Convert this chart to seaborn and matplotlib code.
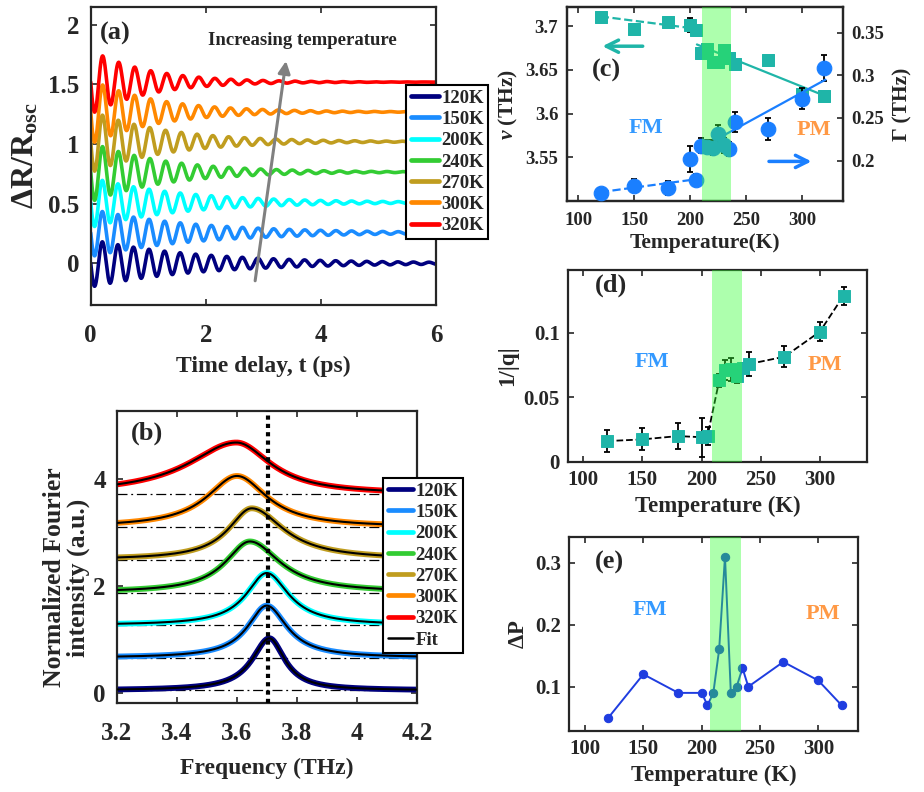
import numpy as np
import pandas as pd
import matplotlib
matplotlib.use("Agg")
import matplotlib.pyplot as plt
import seaborn as sns
from matplotlib.ticker import FuncFormatter, FixedLocator
from matplotlib.lines import Line2D

# ---------------- data ----------------
temp_labels = ["120K", "150K", "200K", "240K", "270K", "300K", "320K"]
temp_colors = ["#00007f", "#1a8cff", "#00ffff", "#33cc33", "#c09d1f", "#ff8800", "#ff0000"]

# (a) damped coherent-phonon traces: offset, amplitude, frequency (THz), decay (ps)
a_offset = [0.0, 0.255, 0.51, 0.765, 1.02, 1.27, 1.52]
a_amp = [0.20, 0.20, 0.21, 0.25, 0.26, 0.27, 0.27]
a_freq = [3.70, 3.695, 3.695, 3.64, 3.65, 3.60, 3.59]
a_tau = [1.9, 1.8, 1.6, 1.3, 1.3, 1.15, 1.0]

# (b) Fourier spectra: baseline, peak height, centre, left/right half widths
b_base = [0.045, 0.655, 1.265, 1.875, 2.49, 3.095, 3.71]
b_amp = [0.975, 0.975, 0.975, 0.955, 0.96, 0.96, 0.97]
b_center = [3.708, 3.699, 3.699, 3.643, 3.649, 3.600, 3.598]
b_hwl = [0.070, 0.078, 0.083, 0.100, 0.095, 0.122, 0.195]
b_hwr = [0.062, 0.083, 0.089, 0.123, 0.130, 0.122, 0.139]
b_dotted = 3.705

# (c) frequency and linewidth vs temperature
T = [120, 150, 180, 200, 205, 210, 215, 220, 225, 230, 235, 240, 270, 300, 320]
nu = [3.7106, 3.6962, 3.7042, 3.701, 3.696, 3.669, 3.6735, 3.659, 3.659, 3.6727,
      3.664, 3.6567, 3.6613, 3.622, 3.6195]
nu_err = [0.003, 0.004, 0.004, 0.008, 0.004, 0.004, 0.004, 0.005, 0.005, 0.004,
          0.004, 0.005, 0.004, 0.005, 0.005]
gam = [0.1623, 0.1706, 0.1675, 0.2016, 0.1773, 0.2173, 0.2165, 0.2153, 0.231, 0.2177,
       0.2138, 0.2452, 0.2373, 0.2727, 0.3088]
gam_err = [0.006, 0.008, 0.008, 0.015, 0.007, 0.009, 0.008, 0.009, 0.011, 0.009,
           0.008, 0.012, 0.013, 0.012, 0.015]
nu_fit_lo_T, nu_fit_lo = [120, 205], [3.711, 3.697]
nu_fit_hi_T, nu_fit_hi = [206, 321], [3.679, 3.620]
gam_fit_lo_T, gam_fit_lo = [120, 205], [0.163, 0.178]
gam_fit_hi_T, gam_fit_hi = [225, 321], [0.226, 0.295]

# (d) 1/|q|
Tq = [120, 150, 180, 200, 205, 215, 220, 225, 230, 235, 240, 270, 300, 320]
invq = [0.016, 0.0173, 0.0199, 0.019, 0.0199, 0.0633, 0.0711, 0.0716, 0.0667, 0.0724,
        0.0757, 0.0814, 0.1008, 0.1287]
invq_err = [0.0085, 0.0085, 0.010, 0.015, 0.007, 0.005, 0.008, 0.009, 0.006, 0.004,
            0.009, 0.008, 0.0075, 0.007]

# (e) Delta P
TP = [120, 150, 180, 200, 205, 210, 215, 220, 225, 230, 235, 240, 270, 300, 320]
dP = [0.05, 0.12, 0.09, 0.09, 0.07, 0.09, 0.16, 0.31, 0.09, 0.10, 0.13, 0.10, 0.14, 0.11, 0.07]

band_c = (211, 236.7)
band_d = (209, 234)
band_e = (207.5, 233.5)

# ---------------- style ----------------
sns.set_style("ticks")
plt.rcParams["font.family"] = ["Liberation Serif", "DejaVu Serif"]
plt.rcParams["font.weight"] = "bold"
plt.rcParams["axes.labelweight"] = "bold"
plt.rcParams["mathtext.fontset"] = "custom"
plt.rcParams["mathtext.rm"] = "Liberation Serif:bold"
plt.rcParams["mathtext.bf"] = "Liberation Serif:bold"
plt.rcParams["mathtext.it"] = "Liberation Serif:bold:italic"

teal = "#1fb5a8"
blue = "#1a7fff"
fm_col = "#3399ff"
pm_col = "#ff9945"
band_col = "#33ff33"
fmt = FuncFormatter(lambda v, p: "%g" % round(v, 4))

fig = plt.figure(figsize=(9.24, 7.92), dpi=100)
axA = fig.add_axes([0.0982, 0.6149, 0.3737, 0.3763])
axB = fig.add_axes([0.1266, 0.1124, 0.3247, 0.3687])
axC = fig.add_axes([0.6133, 0.7462, 0.2994, 0.2446])
axD = fig.add_axes([0.6150, 0.4170, 0.3229, 0.2421])
axE = fig.add_axes([0.6161, 0.0774, 0.3128, 0.2442])


def style(ax, fs, xpad=6, ypad=6, right=True):
    for s in ax.spines.values():
        s.set_linewidth(1.6)
        s.set_color("#262626")
        s.set_visible(True)
    ax.tick_params(direction="in", top=True, right=right, length=4, width=1.2,
                   labelsize=fs)
    ax.tick_params(axis="x", pad=xpad)
    ax.tick_params(axis="y", pad=ypad)
    for lab in ax.get_xticklabels() + ax.get_yticklabels():
        lab.set_fontweight("bold")


# ---------------- (a) ----------------
t = np.linspace(0, 6, 1800)
rows = []
for lab, off, A, f, tau in zip(temp_labels, a_offset, a_amp, a_freq, a_tau):
    y = off - A * np.sin(2 * np.pi * f * t) * np.exp(-t / tau)
    rows.append(pd.DataFrame({"t": t, "y": y, "T": lab}))
dfa = pd.concat(rows)
sns.lineplot(data=dfa, x="t", y="y", hue="T", palette=temp_colors, lw=2.6,
             legend=False, ax=axA, estimator=None, sort=False)
axA.set_xlim(0, 6)
axA.set_ylim(-0.35, 2.15)
axA.xaxis.set_major_locator(FixedLocator([0, 2, 4, 6]))
axA.yaxis.set_major_locator(FixedLocator([0, 0.5, 1, 1.5, 2]))
axA.xaxis.set_major_formatter(fmt)
axA.yaxis.set_major_formatter(fmt)
style(axA, 18, xpad=14, ypad=8)
axA.set_xlabel("Time delay, t (ps)", fontsize=17, labelpad=6)
axA.set_ylabel(r"$\Delta$R/R$_{\rm osc}$", fontsize=23, labelpad=6)
axA.text(0.16, 1.93, "(a)", fontsize=19, fontweight="bold", va="center")
axA.annotate("", xy=(3.4, 1.72), xytext=(2.85, -0.17),
             arrowprops=dict(arrowstyle="-|>", color="#808080", lw=2.2,
                             mutation_scale=18))
axA.text(3.67, 1.87, "Increasing temperature", fontsize=13.5, fontweight="bold",
         ha="center", va="center")
hA = [Line2D([], [], color=c, lw=3.4) for c in temp_colors]
legA = axA.legend(hA, temp_labels, loc="upper left", bbox_to_anchor=(0.4394, 0.8927),
                  bbox_transform=fig.transFigure, fontsize=13.5, frameon=True,
                  fancybox=False, framealpha=1, edgecolor="black", borderpad=0.25,
                  handlelength=1.5, handletextpad=0.12, labelspacing=0.22,
                  borderaxespad=0)
legA.get_frame().set_linewidth(1.5)
for tx in legA.get_texts():
    tx.set_fontweight("bold")

# ---------------- (b) ----------------
fq = np.linspace(3.2, 4.2, 800)
rows = []
for lab, b0, A, c, hl, hr in zip(temp_labels, b_base, b_amp, b_center, b_hwl, b_hwr):
    hw = np.where(fq < c, hl, hr)
    y = b0 + A * hw ** 2 / ((fq - c) ** 2 + hw ** 2)
    rows.append(pd.DataFrame({"f": fq, "y": y, "T": lab}))
dfb = pd.concat(rows)
for b0 in b_base:
    axB.axhline(b0, color="black", lw=0.9, ls=(0, (8, 3, 1.5, 3)), zorder=1)
sns.lineplot(data=dfb, x="f", y="y", hue="T", palette=temp_colors, lw=4.2,
             legend=False, ax=axB, estimator=None, sort=False, zorder=2)
for lab in temp_labels:
    sub = dfb[dfb["T"] == lab]
    sns.lineplot(x=sub["f"].values, y=sub["y"].values, color="black", lw=1.5,
                 ax=axB, estimator=None, sort=False, zorder=3)
axB.axvline(b_dotted, color="black", lw=3, ls=(0, (1, 1)), zorder=4)
axB.set_xlim(3.2, 4.2)
axB.set_ylim(-0.19, 5.27)
axB.xaxis.set_major_locator(FixedLocator([3.2, 3.4, 3.6, 3.8, 4.0, 4.2]))
axB.yaxis.set_major_locator(FixedLocator([0, 2, 4]))
axB.xaxis.set_major_formatter(fmt)
axB.yaxis.set_major_formatter(fmt)
style(axB, 18, xpad=14, ypad=8)
axB.set_xlabel("Frequency (THz)", fontsize=17, labelpad=9)
axB.set_ylabel("Normalized Fourier\nintensity (a.u.)", fontsize=18.5,
               linespacing=1.05)
axB.yaxis.set_label_coords(-0.09, 0.43)
axB.text(3.245, 4.86, "(b)", fontsize=19, fontweight="bold", va="center")
hB = [Line2D([], [], color=c, lw=3.4) for c in temp_colors] + \
     [Line2D([], [], color="black", lw=1.8)]
legB = axB.legend(hB, temp_labels + ["Fit"], loc="upper left",
                  bbox_to_anchor=(0.4145, 0.3965), bbox_transform=fig.transFigure,
                  fontsize=13.5, frameon=True, fancybox=False, framealpha=1,
                  edgecolor="black", borderpad=0.25, handlelength=1.35,
                  handletextpad=0.12, labelspacing=0.22, borderaxespad=0)
legB.get_frame().set_linewidth(1.5)
for tx in legB.get_texts():
    tx.set_fontweight("bold")

# ---------------- (c) ----------------
axC2 = axC.twinx()
axC.errorbar(T, nu, yerr=nu_err, fmt="none", ecolor="black", elinewidth=1.3,
             capsize=2, capthick=1.3, zorder=2)
sns.scatterplot(x=T, y=nu, marker="s", s=80, color=teal, edgecolor=teal, ax=axC,
                zorder=3, legend=False)
sns.lineplot(x=nu_fit_lo_T, y=nu_fit_lo, color=teal, lw=1.6, ls="--", ax=axC)
sns.lineplot(x=nu_fit_hi_T, y=nu_fit_hi, color=teal, lw=1.6, ax=axC)
axC2.errorbar(T, gam, yerr=gam_err, fmt="none", ecolor="black", elinewidth=1.3,
              capsize=2, capthick=1.3, zorder=2)
sns.scatterplot(x=T, y=gam, marker="o", s=110, color=blue, edgecolor=blue, ax=axC2,
                zorder=3, legend=False)
sns.lineplot(x=gam_fit_lo_T, y=gam_fit_lo, color=blue, lw=1.6, ls="--", ax=axC2)
sns.lineplot(x=gam_fit_hi_T, y=gam_fit_hi, color=blue, lw=1.6, ax=axC2)
axC2.axvspan(*band_c, color=band_col, alpha=0.4, lw=0, zorder=10)
axC.set_xlim(89.5, 337)
axC.set_ylim(3.5, 3.7215)
axC2.set_ylim(0.1525, 0.38)
axC.xaxis.set_major_locator(FixedLocator([100, 150, 200, 250, 300]))
axC.yaxis.set_major_locator(FixedLocator([3.55, 3.6, 3.65, 3.7]))
axC2.yaxis.set_major_locator(FixedLocator([0.2, 0.25, 0.3, 0.35]))
for a in (axC, axC2):
    a.xaxis.set_major_formatter(fmt)
    a.yaxis.set_major_formatter(fmt)
style(axC, 13.5, xpad=8, ypad=6, right=False)
style(axC2, 13.5, xpad=8, ypad=6, right=True)
axC2.tick_params(left=False, labelleft=False)
axC.set_xlabel("Temperature(K)", fontsize=15.5, labelpad=3)
axC.set_ylabel(r"$\nu$ (THz)", fontsize=15.5, labelpad=4)
axC2.set_ylabel("Γ (THz)", fontsize=15.5, labelpad=6)
axC.text(112, 3.649, "(c)", fontsize=19, fontweight="bold", va="center")
axC.text(160, 3.584, "FM", fontsize=16, fontweight="bold", color=fm_col,
         ha="center", va="center")
axC.text(310.5, 3.5815, "PM", fontsize=16, fontweight="bold", color=pm_col,
         ha="center", va="center")
axC.annotate("", xy=(119, 3.677), xytext=(160, 3.677),
             arrowprops=dict(arrowstyle="->", color=teal, lw=2.5, mutation_scale=22))
axC2.annotate("", xy=(311, 0.199), xytext=(268, 0.199),
              arrowprops=dict(arrowstyle="->", color=blue, lw=2.5, mutation_scale=22))

# ---------------- (d) ----------------
sns.lineplot(x=Tq, y=invq, color="black", lw=1.3, ls="--", ax=axD, zorder=1)
axD.errorbar(Tq, invq, yerr=invq_err, fmt="none", ecolor="black", elinewidth=1.3,
             capsize=2, capthick=1.3, zorder=2)
sns.scatterplot(x=Tq, y=invq, marker="s", s=70, color=teal, edgecolor=teal, ax=axD,
                zorder=3, legend=False)
axD.axvspan(*band_d, color=band_col, alpha=0.4, lw=0, zorder=10)
axD.set_xlim(87.3, 339.5)
axD.set_ylim(0, 0.1486)
axD.xaxis.set_major_locator(FixedLocator([100, 150, 200, 250, 300]))
axD.yaxis.set_major_locator(FixedLocator([0, 0.05, 0.1]))
axD.xaxis.set_major_formatter(fmt)
axD.yaxis.set_major_formatter(fmt)
style(axD, 15)
axD.set_xlabel("Temperature (K)", fontsize=16.5, labelpad=4)
axD.set_ylabel("1/|q|", fontsize=16.5, labelpad=4)
axD.text(110, 0.137, "(d)", fontsize=19, fontweight="bold", va="center")
axD.text(157.8, 0.0775, "FM", fontsize=16, fontweight="bold", color=fm_col,
         ha="center", va="center")
axD.text(304, 0.075, "PM", fontsize=16, fontweight="bold", color=pm_col,
         ha="center", va="center")

# ---------------- (e) ----------------
sns.lineplot(x=TP, y=dP, color="#1f3de0", lw=1.4, marker="o", markersize=6,
             markeredgecolor="#1f3de0", ax=axE, sort=False)
axE.axvspan(*band_e, color=band_col, alpha=0.4, lw=0, zorder=10)
axE.set_xlim(86.5, 334.3)
axE.set_ylim(0.029, 0.341)
axE.xaxis.set_major_locator(FixedLocator([100, 150, 200, 250, 300]))
axE.yaxis.set_major_locator(FixedLocator([0.1, 0.2, 0.3]))
axE.xaxis.set_major_formatter(fmt)
axE.yaxis.set_major_formatter(fmt)
style(axE, 15)
axE.set_xlabel("Temperature (K)", fontsize=16.5, labelpad=4)
axE.set_ylabel(r"$\Delta$P", fontsize=16.5, labelpad=4)
axE.text(108.6, 0.30, "(e)", fontsize=19, fontweight="bold", va="center")
axE.text(155.7, 0.223, "FM", fontsize=16, fontweight="bold", color=fm_col,
         ha="center", va="center")
axE.text(304, 0.218, "PM", fontsize=16, fontweight="bold", color=pm_col,
         ha="center", va="center")

fig.savefig("out.png", dpi=100)
